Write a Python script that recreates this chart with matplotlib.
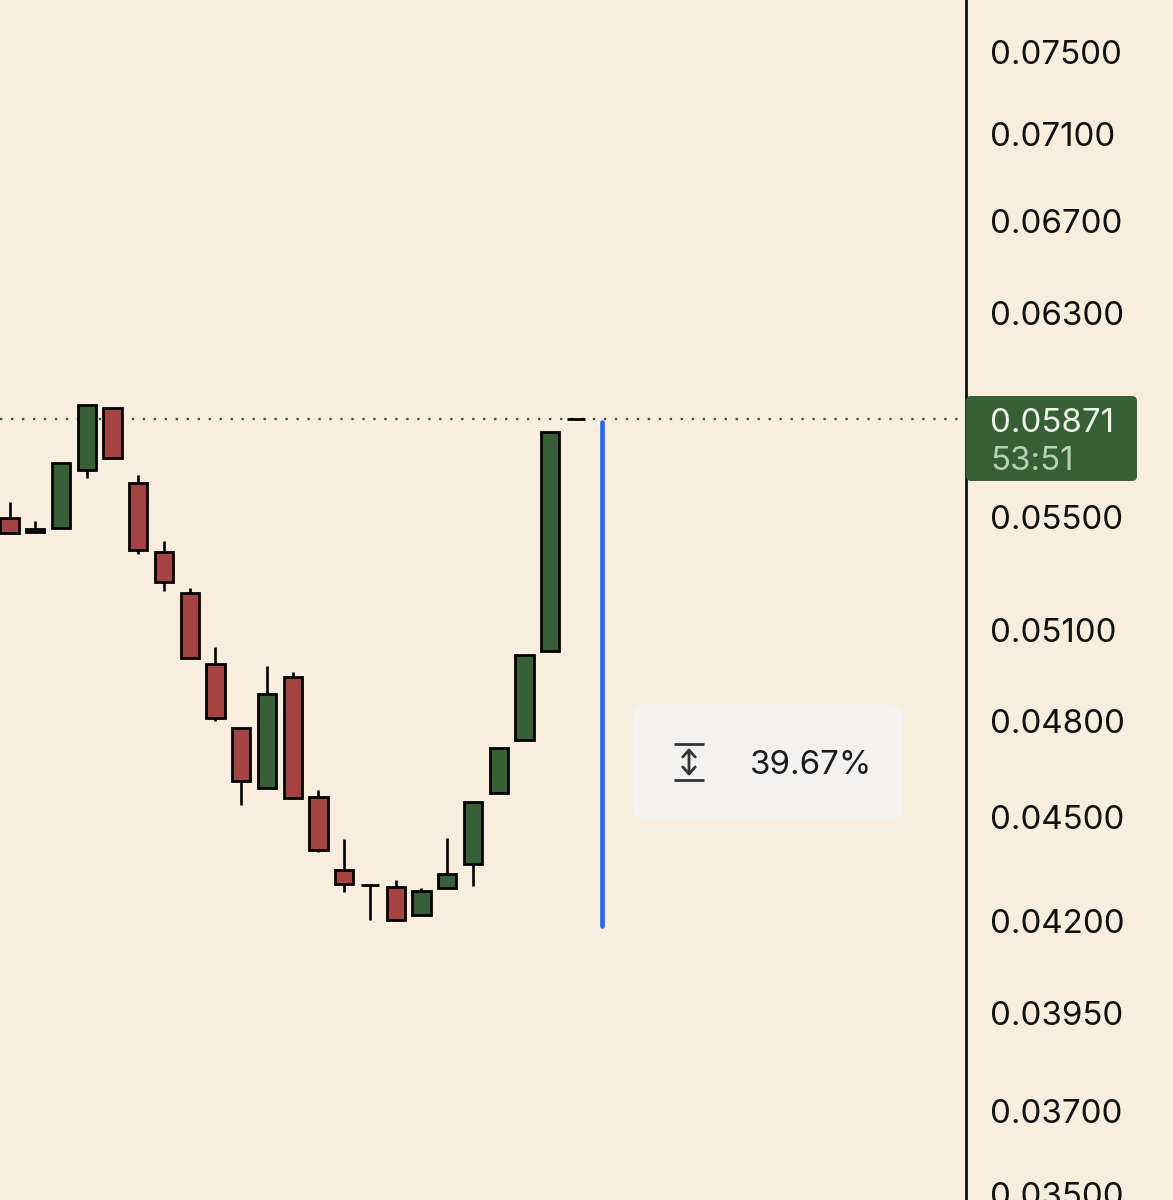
import matplotlib
matplotlib.use('Agg')
import matplotlib.pyplot as plt
from matplotlib.patches import FancyBboxPatch

# candles, oldest first, prices
opens  = [0.05493, 0.05455, 0.05458, 0.05675, 0.05915, 0.05626, 0.05370, 0.05226, 0.04984, 0.04776, 0.04588, 0.04941,
          0.04562, 0.04343, 0.04300, 0.04294, 0.04215, 0.04292, 0.04361, 0.04573, 0.04739, 0.05029, 0.05871]
closes = [0.05440, 0.05443, 0.05702, 0.05927, 0.05720, 0.05380, 0.05265, 0.05005, 0.04809, 0.04609, 0.04886, 0.04557,
          0.04402, 0.04303, 0.04300, 0.04203, 0.04285, 0.04334, 0.04547, 0.04713, 0.05015, 0.05821, 0.05871]
highs  = [0.05554, 0.05484, 0.05702, 0.05927, 0.05915, 0.05655, 0.05411, 0.05244, 0.05043, 0.04776, 0.04979, 0.04959,
          0.04582, 0.04434, 0.04300, 0.04315, 0.04292, 0.04437, 0.04547, 0.04713, 0.05015, 0.05821, 0.05871]
lows   = [0.05440, 0.05443, 0.05458, 0.05644, 0.05720, 0.05365, 0.05234, 0.05005, 0.04800, 0.04536, 0.04588, 0.04557,
          0.04396, 0.04280, 0.04203, 0.04203, 0.04215, 0.04292, 0.04297, 0.04573, 0.04739, 0.05029, 0.05871]

last_price = 0.05871
measure_high = 0.05860
measure_low = 0.04186
measure_label = '39.67%'
countdown = '53:51'

price_ticks = [0.075, 0.071, 0.067, 0.063, 0.055, 0.051, 0.048, 0.045, 0.042, 0.0395, 0.037, 0.035]
price_labels = ['0.07500', '0.07100', '0.06700', '0.06300', '0.05500', '0.05100', '0.04800', '0.04500', '0.04200',
                '0.03950', '0.03700', '0.03500']

BG = '#f9eedd'
GREEN = '#365f35'
RED = '#a54343'
BLUE = '#2a63f5'

plt.rcParams['font.family'] = ['Inter', 'DejaVu Sans']
FS = 23.8

fig = plt.figure(figsize=(11.73, 12), dpi=100, facecolor=BG)
ax = fig.add_axes([0, 0, 966 / 1173, 1], facecolor=BG)
ax.set_yscale('log')
ax.set_xlim(-0.369, 37.15)
ax.set_ylim(0.034857, 0.077637)

idx = list(range(len(opens)))
colors = [GREEN if c > o else RED for o, c in zip(opens, closes)]
bottoms = [min(o, c) for o, c in zip(opens, closes)]
heights = [abs(o - c) for o, c in zip(opens, closes)]

ax.axhline(last_price, color=GREEN, lw=1.7, linestyle=(0, (1, 3.65)), zorder=1)
ax.vlines(idx, lows, highs, color='black', lw=1.9, zorder=2)
ax.bar(idx, heights, bottom=bottoms, width=0.71, color=colors, edgecolor='black', linewidth=2.0, zorder=3)
ax.plot([23, 23], [measure_high, measure_low], color=BLUE, lw=3.3, solid_capstyle='round', zorder=4)

ax.yaxis.tick_right()
ax.set_yticks(price_ticks)
ax.set_yticklabels(price_labels)
ax.minorticks_off()
ax.tick_params(axis='y', length=0, pad=17, labelsize=FS, labelcolor='#111111')
ax.set_xticks([])
for side in ['left', 'top', 'bottom']:
    ax.spines[side].set_visible(False)
ax.spines['right'].set_linewidth(1.9)
ax.spines['right'].set_color('black')

# overlay in pixel coordinates for the label boxes
ov = fig.add_axes([0, 0, 1, 1], facecolor='none')
ov.set_xlim(0, 1173)
ov.set_ylim(1200, 0)
ov.axis('off')

ov.add_patch(FancyBboxPatch((633, 705), 269, 115, boxstyle='round,pad=0,rounding_size=11',
                            fc='#f3f2f0', ec='none'))
ov.plot([674, 704], [744, 744], color='#333333', lw=2.0, solid_capstyle='butt')
ov.plot([674, 704], [780, 780], color='#333333', lw=2.0, solid_capstyle='butt')
ov.annotate('', xy=(689, 748), xytext=(689, 776),
            arrowprops=dict(arrowstyle='<->,head_length=0.5,head_width=0.45', color='#333333', lw=2.0,
                            shrinkA=0, shrinkB=0))
ov.text(750, 765, measure_label, fontsize=FS, color='#1c1c1c', va='center', ha='left')

ov.add_patch(FancyBboxPatch((966, 396), 171, 85, boxstyle='round,pad=0,rounding_size=5',
                            fc=GREEN, ec='none'))
ov.text(990, 423, '%.5f' % last_price, fontsize=FS, color='#eef3ea', va='center', ha='left')
ov.text(990, 461, countdown, fontsize=FS, color='#b7cfb3', va='center', ha='left')

fig.savefig('out.png', dpi=100, facecolor=BG)
